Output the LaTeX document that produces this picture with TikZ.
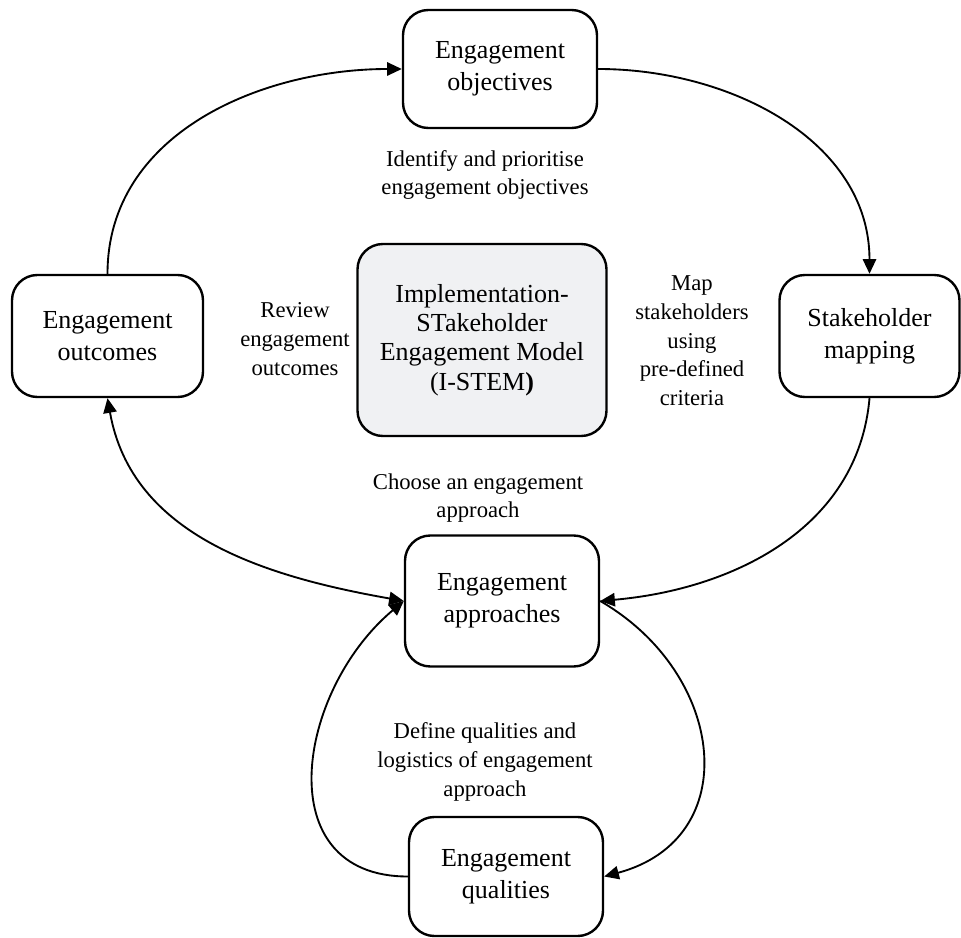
\documentclass[tikz,border=0pt]{standalone}
\usepackage{fontspec}
\setmainfont{Liberation Serif}
\usetikzlibrary{arrows.meta}

\tikzset{
  stembox/.style={draw, line width=1.8pt, rounded corners=19pt, align=center, inner sep=0pt,
    font=\fontsize{19.5}{24}\selectfont},
  steplabel/.style={align=center, font=\fontsize{17}{21.5}\selectfont},
  flow/.style={line width=1.4pt, ->},
}

\begin{document}
\begin{tikzpicture}[x=0.75pt,y=0.75pt,yscale=-1,xscale=1,>={Triangle[length=11pt,width=10pt]}]
\useasboundingbox (0,0) rectangle (961,938);

% Boxes
\node[stembox, minimum width=145.5pt, minimum height=88.5pt] (objectives) at (500,69) {Engagement\\objectives};
\node[stembox, minimum width=143.25pt, minimum height=91.5pt] (outcomes) at (107.5,336) {Engagement\\outcomes};
\node[stembox, minimum width=135pt, minimum height=91.5pt] (stakeholder) at (869.5,336) {Stakeholder\\mapping};
\node[stembox, fill={rgb,255:red,240;green,241;blue,243}, minimum width=186.75pt, minimum height=144pt,
  font=\fontsize{19.5}{22}\selectfont] (model) at (482,340)
  {Implementation-\\STakeholder\\Engagement Model\\(I-STEM\textbf{)}};
\node[stembox, minimum width=145.5pt, minimum height=98.25pt] (approaches) at (502,601) {Engagement\\approaches};
\node[stembox, minimum width=145.5pt, minimum height=89.25pt] (qualities) at (506,876.5) {Engagement\\qualities};

% Text Node
\node[steplabel] (identify) at (485,175) {Identify and prioritise\\engagement objectives};
\node[steplabel] (review) at (295,339) {Review\\engagement\\outcomes};
\node[steplabel] (map) at (692,341) {Map\\stakeholders\\using\\pre-defined\\criteria};
\node[steplabel] (choose) at (478,498) {Choose an engagement\\approach};
\node[steplabel] (define) at (485,762) {Define qualities and\\logistics of engagement\\approach};

% Curves (angles flipped by yscale=-1)
\draw[flow] (outcomes.north) to[out=-90,in=180] (objectives.west);
\draw[flow] (objectives.east) to[out=0,in=-90] (stakeholder.north);
\draw[flow] (stakeholder.south) to[out=95,in=-5] (approaches.east);
\draw[flow, <->] (outcomes.south) to[out=80,in=190] (approaches.west);
\draw[flow] (qualities.west) to[out=180,in=140,looseness=1.3] (approaches.west);
\draw[flow] (approaches.east) to[out=30,in=-15,looseness=1.35] (qualities.east);

\end{tikzpicture}
\end{document}
